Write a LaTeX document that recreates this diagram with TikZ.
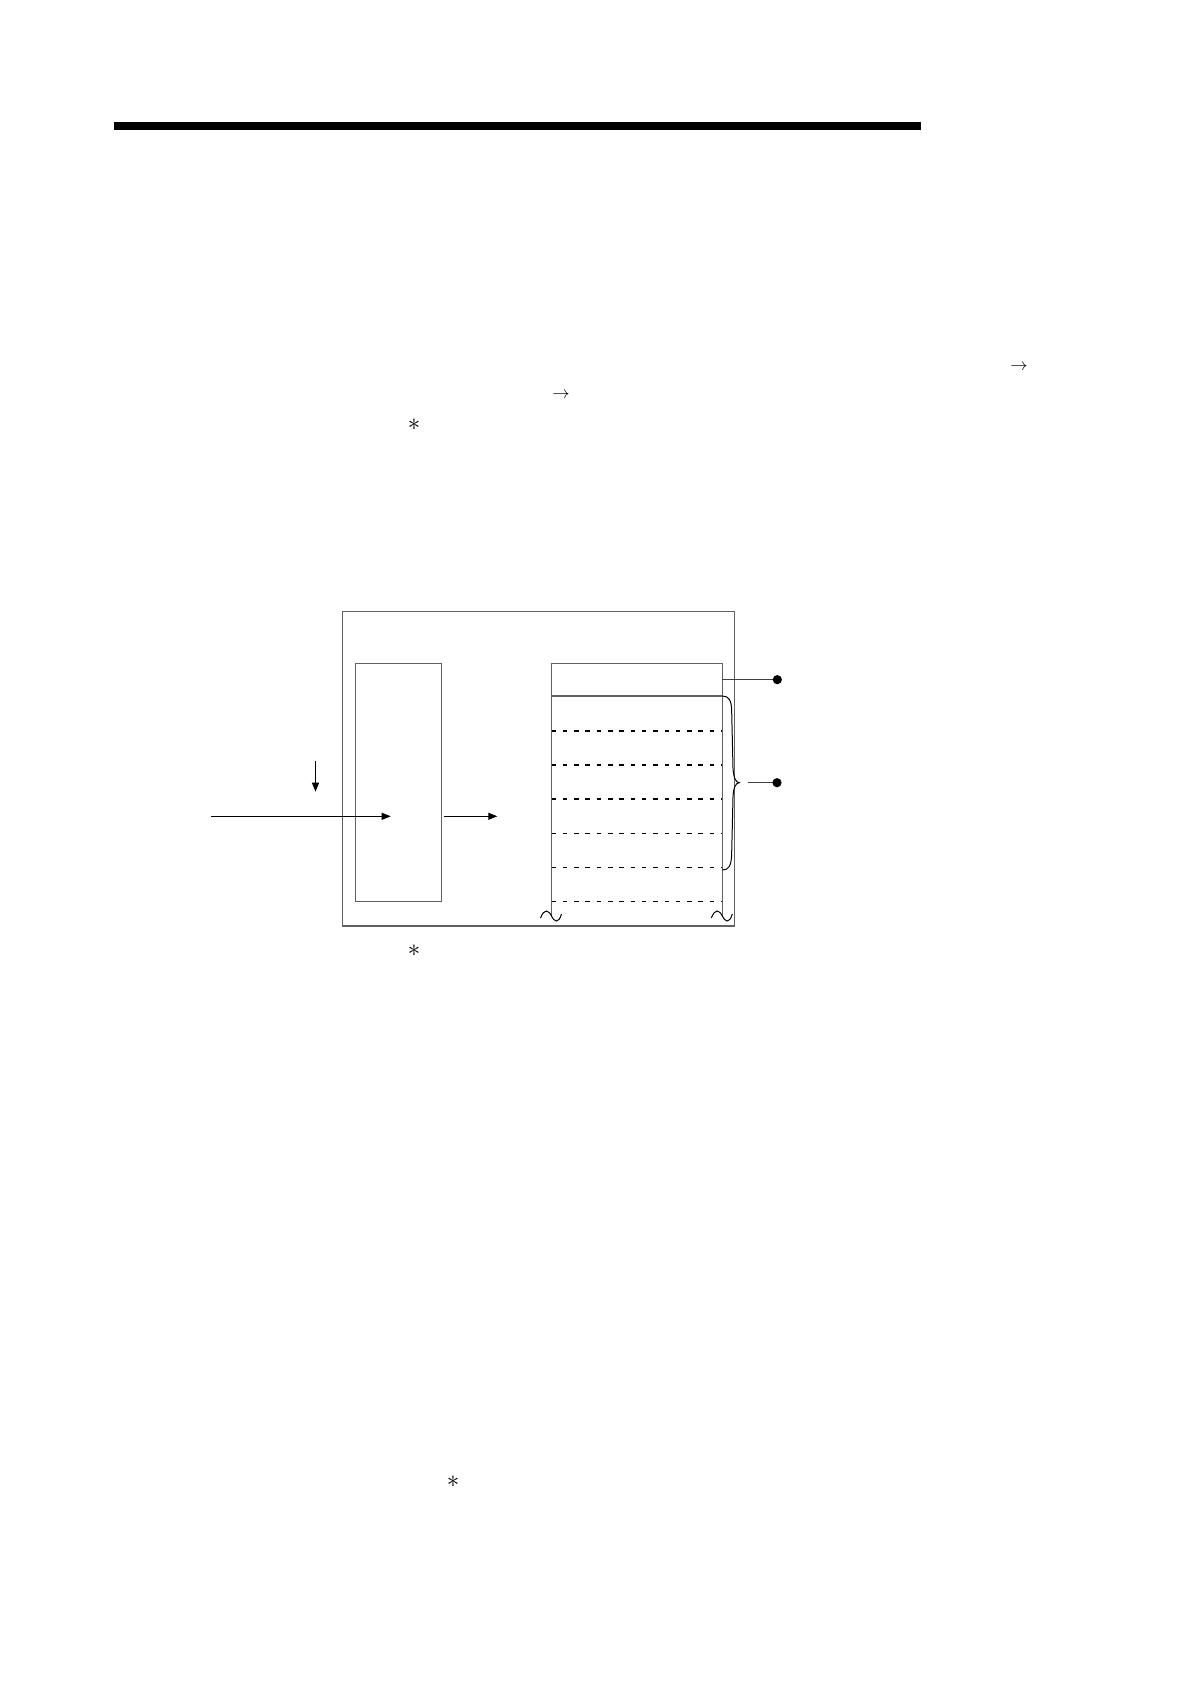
\documentclass[tikz,border=0pt]{standalone}
\usetikzlibrary{arrows.meta}
\begin{document}
\begin{tikzpicture}[x=1pt,y=-1pt,
  frameline/.style={draw=black!62, line width=1.3pt, outer sep=0pt, inner sep=0pt},
  boxline/.style={draw=black!62, line width=1.1pt, outer sep=0pt, inner sep=0pt},
  arr/.style={draw=black, line width=1pt, -{Triangle[length=9pt,width=7pt]}},
  dashline/.style={draw=black, line width=1.1pt, dash pattern=on 4.5pt off 6.8pt},
  dotline/.style={draw=black!75, line width=1pt},
  sym/.style={inner sep=0pt, font=\fontsize{19}{22}\selectfont},
  astsym/.style={inner sep=0pt, font=\fontsize{36}{40}\selectfont},
  breakline/.style={draw=black, line width=1pt}]
\useasboundingbox (0,0) rectangle (1190,1684);
% thick header bar
\fill[black] (114,121.5) rectangle (921,130);
% symbols in the (removed) text
\node[sym] (arrA) at (1019,367) {$\rightarrow$};
\node[sym] (arrB) at (561,395) {$\rightarrow$};
\node[astsym] (astA) at (414,425) {$\ast$};
\node[astsym] (astB) at (414,951) {$\ast$};
\node[astsym] (astC) at (453,1482) {$\ast$};
% outer frame
\node[frameline, anchor=north west, minimum width=392pt, minimum height=314.3pt] (frame) at (342.7,611.7) {};
% left process box
\node[boxline, anchor=north west, minimum width=85.6pt, minimum height=238pt] (proc) at (355.7,663.3) {};
% table header
\node[boxline, anchor=north west, minimum width=170.8pt, minimum height=32.7pt] (hdr) at (551.5,663.3) {};
\coordinate (tl) at (551.5,696);
\coordinate (tr) at (722.3,696);
\coordinate (bl) at (551.5,916);
\coordinate (br) at (722.3,916);
\draw[boxline] (tl) -- (bl);
\draw[boxline] (tr) -- (br);
% dashed rows
\foreach \yy in {731,765,799,833.3,867.3,901.3}{
  \draw[dashline] (551.5,\yy) -- (722.3,\yy);
}
% break marks
\foreach \xx in {551.5,722.3}{
  \draw[breakline] (\xx-11,918) .. controls (\xx-7,908) and (\xx-3,910) .. (\xx,916)
    .. controls (\xx+3,922) and (\xx+7,924) .. (\xx+10,914);
}
% arrows
\coordinate (inA) at (211,816.3);
\coordinate (inB) at (390.7,816.3);
\draw[arr] (inA) -- (inB);
\coordinate (dnA) at (315.5,760.7);
\coordinate (dnB) at (315.5,791.7);
\draw[arr] (dnA) -- (dnB);
\coordinate (outA) at (444.3,816.3);
\coordinate (outB) at (497.3,816.3);
\draw[arr] (outA) -- (outB);
% header pointer
\draw[dotline] (hdr.east) -- ++(55,0) coordinate (dotA);
\fill (dotA) circle (4.6pt);
% brace
\coordinate (btip) at (739.3,782.7);
\draw[black, line width=1pt] (tr) .. controls (729,696) and (731.5,700) .. (731.7,712)
  -- (733,768) .. controls (733.5,778) and (736,782.7) .. (btip)
  .. controls (736,782.7) and (733.5,787) .. (733,797)
  -- (731.7,852) .. controls (731.5,866) and (729,870) .. (722.3,870);
\coordinate (bline) at (747.7,782.7);
\draw[dotline] (bline) -- ++(29.3,0) coordinate (dotB);
\fill (dotB) circle (4.6pt);
\end{tikzpicture}
\end{document}
